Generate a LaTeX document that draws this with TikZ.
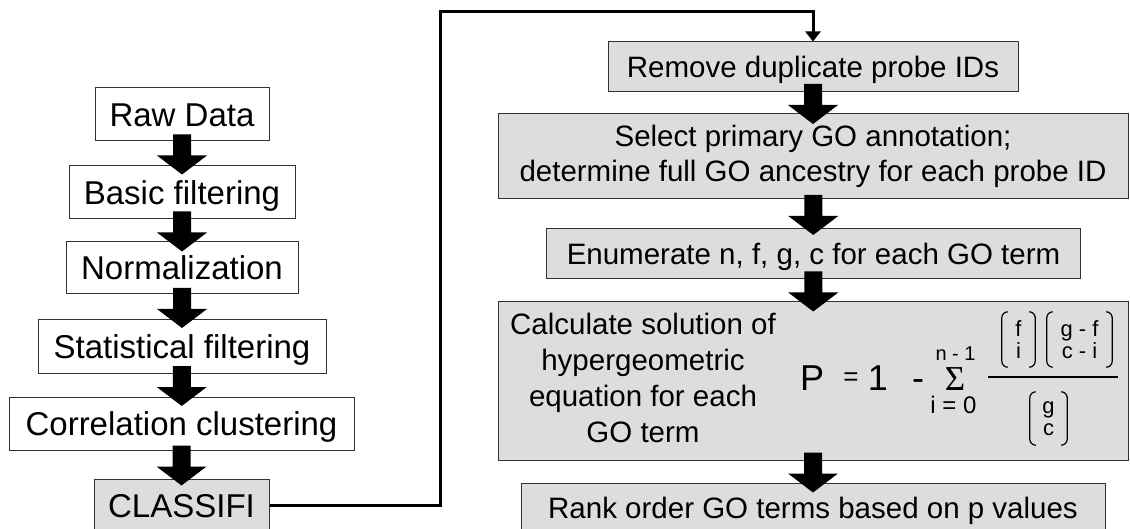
\documentclass[tikz,border=0pt]{standalone}
\usepackage{fontspec}
\setmainfont{Liberation Sans}
\newfontfamily\sigmafont{Liberation Serif}
\usetikzlibrary{calc,arrows.meta}

\definecolor{boxgray}{RGB}{221,221,221}
\definecolor{edgegray}{RGB}{50,50,50}

% rounded square brackets round a binomial node
\newcommand\binombrackets[1]{%
  \draw[bracket] ($(#1.north west)+(6,0)$) to[out=180,in=90] ($(#1.north west)+(0,-6)$)
     -- ($(#1.south west)+(0,6)$) to[out=-90,in=180] ($(#1.south west)+(6,0)$);
  \draw[bracket] ($(#1.north east)+(-6,0)$) to[out=0,in=90] ($(#1.north east)+(0,-6)$)
     -- ($(#1.south east)+(0,6)$) to[out=-90,in=0] ($(#1.south east)+(-6,0)$);}

\begin{document}
\begin{tikzpicture}[x=1pt,y=1pt,
  box/.style={draw=edgegray, line width=1pt, inner sep=0pt, anchor=center},
  leftbox/.style={box, fill=white, font=\fontsize{33}{40}\selectfont,
    text height=23.8pt, text depth=0pt, minimum height=53},
  rightbox/.style={box, fill=boxgray, font=\fontsize{29.5}{35}\selectfont},
  oneline/.style={text height=21.2pt, text depth=0pt, minimum height=50},
  big/.style={font=\fontsize{36}{36}\selectfont, inner sep=0pt, anchor=base},
  limit/.style={inner sep=0pt, anchor=base},
  binom/.style={font=\fontsize{22}{22}\selectfont, inner sep=0pt, align=center, anchor=center},
  bracket/.style={line width=1.2pt, black},
  fracline/.style={line width=1.3pt, black},
  blockarrow/.style={fill=black},
  link/.style={line width=3pt, black, -{Triangle[width=15pt,length=10pt]}}]

\useasboundingbox (0,0) rectangle (1130,-529);
\clip (0,0) rectangle (1130,-529);

% preprocessing column
\node[leftbox, minimum width=174] (raw) at (182,-114.5) {Raw Data};
\node[leftbox, minimum width=226] (basic) at (182,-192.5) {Basic filtering};
\node[leftbox, minimum width=232, minimum height=52] (norm) at (182,-268) {Normalization};
\node[leftbox, minimum width=288] (stat) at (182,-346.5) {Statistical filtering};
\node[leftbox, minimum width=345] (corr) at (181.5,-423.5) {Correlation clustering};
\node[leftbox, fill=boxgray, minimum width=175] (classifi) at (181.5,-505.5) {CLASSIFI};

% CLASSIFI column
\node[rightbox, oneline, minimum width=410] (remove) at (813,-67) {Remove duplicate probe IDs};
\node[rightbox, align=center, minimum width=630, minimum height=85] (select) at (813,-156.5)
  {Select primary GO annotation;\\determine full GO ancestry for each probe ID};
\node[rightbox, oneline, minimum width=534] (enum) at (813.5,-254) {Enumerate n, f, g, c for each GO term};
\node[rightbox, minimum width=630, minimum height=158] (calc) at (813,-381) {};
\node[rightbox, oneline, minimum width=584] (rank) at (813,-508) {Rank order GO terms based on p values};

\node[font=\fontsize{29.5}{36}\selectfont, align=center, inner sep=0pt] (calctext) at (643,-378.25)
  {Calculate solution of\\hypergeometric\\equation for each\\GO term};

% hypergeometric tail probability
\node[big] (pP) at (812,-390) {P};
\node[font=\fontsize{26}{26}\selectfont, inner sep=0pt, anchor=base] (peq) at (851,-385) {=};
\node[big] (pone) at (878,-390) {1};
\node[big] (pminus) at (918,-390) {-};
\node[limit, font=\sigmafont\fontsize{35}{35}\selectfont] (psum) at (955,-390) {Σ};
\node[limit, font=\fontsize{20}{20}\selectfont] (pupper) at (955.5,-360) {n - 1};
\node[limit, font=\fontsize{24}{24}\selectfont] (plower) at (953.5,-413) {i = 0};
\coordinate (fracl) at (988,-377);
\coordinate (fracr) at (1118,-377);
\draw[fracline] (fracl) -- (fracr);
\node[binom, minimum width=33, minimum height=55] (bf) at (1018.5,-339.5) {f\\i};
\node[binom, minimum width=65, minimum height=55] (bgf) at (1079.5,-339.5) {g - f\\c - i};
\node[binom, minimum width=37, minimum height=53] (bgc) at (1048.5,-418.5) {g\\c};
\binombrackets{bf}
\binombrackets{bgf}
\binombrackets{bgc}

% block arrows between consecutive steps
\foreach \a/\b in {raw/basic,basic/norm,norm/stat,stat/corr,corr/classifi,
                   remove/select,select/enum,enum/calc,calc/rank}{
  \path ($(\a.south)!0.5!(\b.north)$) coordinate (m);
  \fill[blockarrow] ($(m)+(-9,19)$) -- ($(m)+(9,19)$) -- ($(m)+(9,-2)$) -- ($(m)+(25,-2)$)
    -- ($(m)+(0,-21)$) -- ($(m)+(-25,-2)$) -- ($(m)+(-9,-2)$) -- cycle;
}

% hand-off from CLASSIFI to the annotation pipeline
\coordinate (up) at (440,-12);
\draw[link] (classifi.east) -| (up) -| (remove.north);

\end{tikzpicture}
\end{document}
